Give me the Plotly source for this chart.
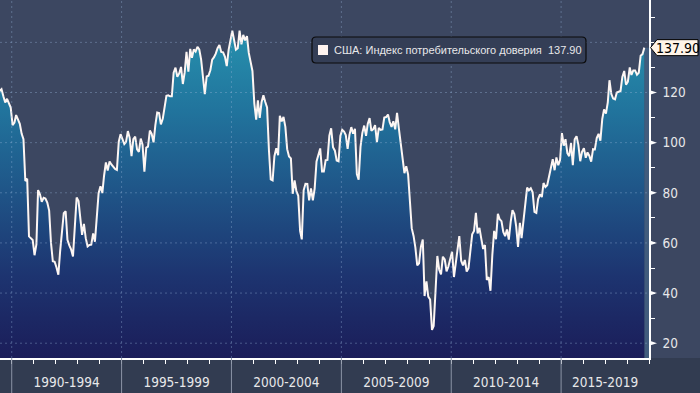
import plotly.graph_objects as go
import pandas as pd

# ---- data: US Conference Board consumer confidence, monthly, Jun 1989 - Oct 2018 ----
v1989 = [120.6, 121.3, 118.5, 116.0, 117.5, 116.0, 114.0]  # Jun-Dec
v1990 = [107.0, 108.0, 111.0, 109.0, 107.5, 103.5, 101.4, 84.7, 85.6, 62.6, 61.7, 61.2]
v1991 = [55.1, 59.4, 81.1, 79.4, 76.4, 78.0, 77.7, 76.1, 72.9, 60.1, 52.7, 52.5]
v1992 = [50.2, 47.3, 56.5, 65.1, 71.9, 72.6, 61.2, 59.0, 57.3, 54.6, 65.6, 78.1]
v1993 = [76.7, 68.5, 63.2, 67.6, 61.9, 58.6, 59.2, 59.3, 63.8, 60.5, 71.9, 79.8]
v1994 = [82.6, 79.9, 86.7, 92.1, 88.9, 92.5, 91.3, 90.4, 89.5, 89.1, 100.4, 103.4]
v1995 = [101.4, 99.4, 100.2, 104.6, 102.0, 94.6, 101.4, 102.4, 97.3, 96.3, 101.6, 99.2]
v1996 = [88.4, 98.0, 98.4, 104.8, 103.5, 100.1, 107.0, 112.0, 111.8, 107.3, 109.5, 114.2]
v1997 = [118.7, 118.9, 118.5, 118.5, 127.9, 129.9, 126.3, 127.6, 130.2, 123.4, 128.1, 136.2]
v1998 = [128.3, 137.4, 133.8, 137.2, 136.3, 138.2, 137.2, 133.1, 126.4, 119.3, 126.4, 126.7]
v1999 = [128.9, 133.1, 134.0, 135.5, 137.7, 139.0, 136.2, 136.0, 134.2, 130.5, 137.0, 141.7]
v2000 = [144.7, 140.8, 137.1, 137.7, 144.7, 139.2, 143.0, 140.8, 142.5, 135.8, 132.6, 128.6]
v2001 = [115.7, 109.2, 116.9, 109.9, 116.1, 118.9, 116.3, 114.0, 97.0, 85.3, 84.9, 94.6]
v2002 = [97.8, 95.0, 110.7, 108.5, 110.3, 106.3, 97.4, 94.5, 93.7, 79.6, 84.9, 80.7]
v2003 = [78.8, 64.8, 61.4, 81.0, 83.6, 83.5, 77.0, 81.7, 77.0, 81.7, 92.5, 94.8]
v2004 = [97.7, 88.5, 88.5, 93.0, 93.1, 102.8, 105.7, 98.2, 96.8, 92.9, 92.6, 102.7]
v2005 = [105.1, 104.4, 103.0, 97.5, 103.1, 106.2, 103.6, 105.5, 87.5, 85.2, 98.3, 103.8]
v2006 = [106.8, 102.7, 107.5, 109.8, 104.7, 105.4, 107.0, 100.2, 105.9, 105.1, 105.3, 110.0]
v2007 = [110.2, 111.2, 108.2, 106.3, 108.5, 105.3, 111.9, 105.6, 99.5, 95.2, 87.8, 90.6]
v2008 = [87.3, 76.4, 65.9, 62.8, 58.1, 51.0, 51.9, 58.5, 61.4, 38.8, 44.7, 38.6]
v2009 = [37.4, 25.3, 26.9, 40.8, 54.8, 49.3, 47.4, 54.5, 53.4, 48.7, 50.6, 53.6]
v2010 = [56.5, 46.4, 52.3, 57.7, 62.7, 52.9, 51.0, 53.2, 48.6, 49.9, 57.8, 63.4]
v2011 = [64.8, 72.0, 63.8, 66.0, 61.7, 57.6, 59.2, 45.2, 46.4, 40.9, 55.2, 64.8]
v2012 = [61.5, 71.6, 69.5, 68.7, 64.4, 62.7, 65.4, 61.3, 68.4, 73.1, 71.5, 66.7]
v2013 = [58.4, 68.0, 61.9, 69.0, 76.2, 82.1, 81.0, 81.8, 80.2, 72.4, 72.0, 77.5]
v2014 = [79.4, 78.3, 83.9, 82.3, 83.0, 86.4, 90.3, 93.4, 89.0, 94.1, 91.0, 93.1]
v2015 = [103.8, 98.8, 101.4, 95.8, 94.6, 99.8, 91.0, 101.3, 102.6, 99.1, 92.6, 96.3]
v2016 = [97.8, 94.0, 96.1, 94.7, 92.4, 97.4, 97.3, 101.8, 103.5, 100.8, 109.4, 113.3]
v2017 = [111.6, 116.1, 124.9, 119.4, 117.6, 117.3, 120.0, 120.4, 120.6, 126.2, 128.6, 123.1]
v2018 = [124.3, 130.0, 127.0, 128.8, 128.8, 127.1, 127.9, 134.7, 135.3, 137.9]  # Jan-Oct

values = (v1989 + v1990 + v1991 + v1992 + v1993 + v1994 + v1995 + v1996 + v1997 + v1998
          + v1999 + v2000 + v2001 + v2002 + v2003 + v2004 + v2005 + v2006 + v2007 + v2008
          + v2009 + v2010 + v2011 + v2012 + v2013 + v2014 + v2015 + v2016 + v2017 + v2018)
dates = pd.date_range("1989-06-01", periods=len(values), freq="MS") + pd.Timedelta(days=14)

period_labels = ["1990-1994", "1995-1999", "2000-2004", "2005-2009", "2010-2014", "2015-2019"]
period_starts = ["1990-01-01", "1995-01-01", "2000-01-01", "2005-01-01", "2010-01-01", "2015-01-01"]
y_ticks = [20, 40, 60, 80, 100, 120]
grid_y = [20, 40, 60, 80, 100, 120, 140]
series_name = "США: Индекс потребительского доверия"

X_RANGE = ["1989-06-20", "2019-01-01"]
Y_RANGE = [14.1, 156.9]

# ---- layout geometry ----
W, H = 700, 393
ML, MR, MT, MB = 0, 51, 0, 35
PW, PH = W - ML - MR, H - MT - MB

BG = "#3c4761"
BAND = "#323c51"
GRID = "rgba(150,178,215,0.38)"
TXT = "#e8e8ea"
NARROW = "Liberation Sans Narrow, DejaVu Sans Condensed, Arial Narrow, sans-serif"


def px_x(px):
    return px / PW


def px_y(py):
    return 1 - py / PH


fig = go.Figure()
fig.add_trace(go.Scatter(
    x=dates, y=values, mode="lines",
    line=dict(color="#fdf6f3", width=2),
    fill="tozeroy",
    fillgradient=dict(type="vertical", start=14, stop=146,
                      colorscale=[[0.0, "#1b1d59"], [0.25, "#1d3470"], [0.5, "#1f5487"],
                                  [0.75, "#21749d"], [1.0, "#2792ae"]]),
    hoverinfo="skip", showlegend=False,
))

# tick label positions (centre of each period within the visible range)
x_end = pd.Timestamp(X_RANGE[1])
tickvals = []
for i, s in enumerate(period_starts):
    a = pd.Timestamp(s)
    b = pd.Timestamp(period_starts[i + 1]) if i + 1 < len(period_starts) else x_end
    tickvals.append(a + (b - a) / 2)

shapes = []
# bottom band
shapes.append(dict(type="rect", xref="paper", yref="paper", x0=0, x1=W / PW, y0=-MB / PH, y1=0,
                   fillcolor=BAND, line=dict(width=0), layer="below"))
# faint strip after the last observation
shapes.append(dict(type="rect", xref="x", yref="y", x0=dates[-1], x1=X_RANGE[1],
                   y0=Y_RANGE[0], y1=values[-1],
                   fillcolor="rgba(70,110,150,0.55)", line=dict(width=0), layer="below"))
# horizontal dashed grid (above fill)
for g in grid_y:
    shapes.append(dict(type="line", xref="paper", yref="y", x0=0, x1=1, y0=g, y1=g,
                       line=dict(color=GRID, width=1, dash="2px,3px"), layer="above"))
# vertical dashed grid + solid separators in band
for s in period_starts:
    shapes.append(dict(type="line", xref="x", yref="paper", x0=s, x1=s, y0=0, y1=1,
                       line=dict(color=GRID, width=1, dash="2px,3px"), layer="above"))
    shapes.append(dict(type="line", xref="x", yref="paper", x0=s, x1=s, y0=-MB / PH, y1=0,
                       line=dict(color="#8b94a6", width=1), layer="above"))
# triangle tick markers on the right axis
unit_px = PH / (Y_RANGE[1] - Y_RANGE[0])
for t in y_ticks:
    hy = 2.6 / unit_px
    shapes.append(dict(type="path", xref="paper", yref="y",
                       path=f"M 1,{t - hy} L {1 + 8 / PW},{t} L 1,{t + hy} Z",
                       fillcolor="#ffffff", line=dict(width=0), layer="above"))
# last value pointer label
last = values[-1]
hy = 8 / unit_px
x_tip, x_body, x_right = px_x(650.5), px_x(657), px_x(698)
shapes.append(dict(type="path", xref="paper", yref="y",
                   path=(f"M {x_tip},{last} L {x_body},{last + hy} L {x_right},{last + hy} "
                         f"L {x_right},{last - hy} L {x_body},{last - hy} Z"),
                   fillcolor="#fff4e8", line=dict(color="#000000", width=1), layer="above"))
# legend box (rounded)
x0, x1 = px_x(312), px_x(586)
top, bot = px_y(37), px_y(63)
rx, ry = 4 / PW, 4 / PH
shapes.append(dict(type="path", xref="paper", yref="paper",
                   path=(f"M {x0 + rx},{top} L {x1 - rx},{top} Q {x1},{top} {x1},{top - ry} "
                         f"L {x1},{bot + ry} Q {x1},{bot} {x1 - rx},{bot} L {x0 + rx},{bot} "
                         f"Q {x0},{bot} {x0},{bot + ry} L {x0},{top - ry} Q {x0},{top} {x0 + rx},{top} Z"),
                   fillcolor="#343e56", line=dict(color="#0a0a0a", width=1.2), layer="above"))
shapes.append(dict(type="rect", xref="paper", yref="paper",
                   x0=px_x(318), x1=px_x(328), y0=px_y(55), y1=px_y(45),
                   fillcolor="#fff4f0", line=dict(width=0), layer="above"))

annotations = [
    dict(xref="paper", yref="paper", x=px_x(332), y=px_y(50), xanchor="left", yanchor="middle",
         text=f"{series_name}\u00a0\u00a0{last:.2f}", showarrow=False,
         font=dict(family="Liberation Sans, Arial, sans-serif", size=11, color=TXT)),
    dict(xref="paper", yref="y", x=px_x(677.5), y=last, xanchor="center", yanchor="middle",
         text=f"{last:.2f}", showarrow=False,
         font=dict(family=NARROW, size=14, color="#000000")),
]

fig.update_layout(
    width=W, height=H,
    margin=dict(l=ML, r=MR, t=MT, b=MB, pad=0, autoexpand=False),
    paper_bgcolor=BG, plot_bgcolor=BG,
    showlegend=False,
    shapes=shapes, annotations=annotations,
    xaxis=dict(
        type="date", range=X_RANGE, showgrid=False, zeroline=False, automargin=False,
        tickmode="array", tickvals=tickvals, ticktext=period_labels,
        ticks="outside", ticklen=11, tickcolor="rgba(0,0,0,0)",
        tickfont=dict(family=NARROW, size=13.5, color=TXT),
        showline=True, linecolor="#ffffff", linewidth=1.5,
        minor=dict(dtick="M12", tick0="1990-01-01", ticks="outside", ticklen=4,
                   tickcolor="#ffffff", tickwidth=1, showgrid=False),
    ),
    yaxis=dict(
        side="right", range=Y_RANGE, showgrid=False, zeroline=False, automargin=False,
        tickmode="array", tickvals=y_ticks, ticktext=[str(t) for t in y_ticks],
        ticks="outside", ticklen=9, tickcolor="rgba(0,0,0,0)",
        tickfont=dict(family=NARROW, size=13.5, color=TXT),
        showline=True, linecolor="#ffffff", linewidth=1.5,
        minor=dict(dtick=10, tick0=0, ticks="outside", ticklen=4,
                   tickcolor="#ffffff", tickwidth=1, showgrid=False),
    ),
)

fig.write_html("out.html", config={"displayModeBar": False},
               post_script="document.body.style.margin='0';document.body.style.background='%s';" % BG)
